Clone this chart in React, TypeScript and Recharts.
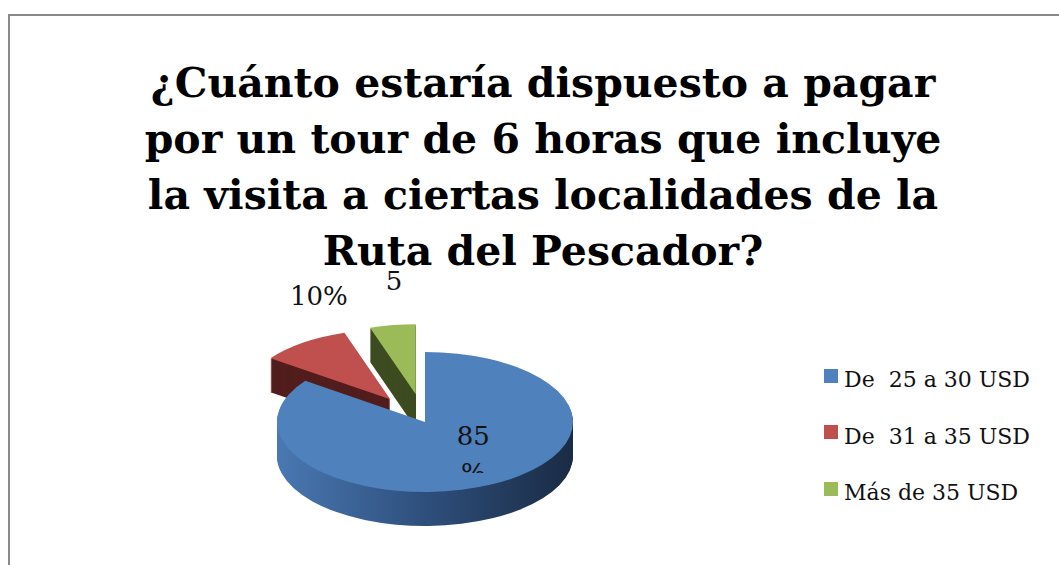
import React from 'react';
import { PieChart, Pie, Legend } from 'recharts';

// chart data
const categories = ['De  25 a 30 USD', 'De  31 a 35 USD', 'Más de 35 USD'];
const values = [85, 10, 5];
const titleLines = [
  '¿Cuánto estaría dispuesto a pagar',
  'por un tour de 6 horas que incluye',
  'la visita a ciertas localidades de la',
  'Ruta del Pescador?',
];

// styling
const topColors = ['#4f81bd', '#c0504d', '#9bbb59'];
const sideColors = ['url(#blueSide)', '#521e1d', '#3d4b21'];
const explode = [0, 0.4, 0.4];
const labelStyle = [
  { kx: 0.72, ky: 0.37, wrap: true, clip: 28 },
  { kx: 0.82, ky: 1.67, wrap: false, clip: 0 },
  { kx: 0.94, ky: 1.51, wrap: true, clip: 6 },
];
const TILT = 0.473;
const DEPTH = 34;
const RAD = Math.PI / 180;
const SERIF = '"DejaVu Serif", serif';

// pie is drawn back-to-front, so the big front slice goes last (counter-clockwise from 12 o'clock)
const pieData = categories
  .map((name, idx) => ({ name, value: values[idx], idx }))
  .reverse();

const ellPt = (cx: number, cy: number, rx: number, ry: number, deg: number) => [
  cx + rx * Math.cos(deg * RAD),
  cy - ry * Math.sin(deg * RAD),
];

const slicePath = (cx: number, cy: number, rx: number, ry: number, a0: number, a1: number) => {
  const [x0, y0] = ellPt(cx, cy, rx, ry, a0);
  const [x1, y1] = ellPt(cx, cy, rx, ry, a1);
  const large = Math.abs(a1 - a0) > 180 ? 1 : 0;
  const sweep = a1 > a0 ? 0 : 1;
  return `M${cx},${cy} L${x0},${y0} A${rx},${ry} 0 ${large} ${sweep} ${x1},${y1} Z`;
};

const renderSlice = (props: any) => {
  const { cx, cy, outerRadius, startAngle, endAngle, midAngle, percent, idx } = props;
  const rx = outerRadius;
  const ry = outerRadius * TILT;
  const e = explode[idx];
  const ccx = cx + e * rx * Math.cos(midAngle * RAD);
  const ccy = cy - e * ry * Math.sin(midAngle * RAD);
  const d = slicePath(ccx, ccy, rx, ry, startAngle, endAngle);

  const sides = [];
  for (let k = DEPTH; k >= 1; k--) {
    sides.push(<path key={k} d={d} transform={`translate(0,${k})`} fill={sideColors[idx]} />);
  }

  const ls = labelStyle[idx];
  const lx = ccx + rx * ls.kx * Math.cos(midAngle * RAD);
  const ly = ccy - ry * ls.ky * Math.sin(midAngle * RAD);
  const pct = Math.round(percent * 100);
  const clipId = `lblclip${idx}`;

  return (
    <g>
      {sides}
      <path d={d} fill={topColors[idx]} />
      {ls.wrap ? (
        <g>
          <defs>
            <clipPath id={clipId}>
              <rect x={lx - 60} y={ly - 40} width={120} height={40 + ls.clip} />
            </clipPath>
          </defs>
          <text
            x={lx}
            y={ly}
            textAnchor="middle"
            fontFamily={SERIF}
            fontSize={26}
            fill="#111"
            clipPath={`url(#${clipId})`}
          >
            <tspan x={lx}>{pct}</tspan>
            <tspan x={lx} dy={37}>%</tspan>
          </text>
        </g>
      ) : (
        <text x={lx} y={ly} textAnchor="middle" fontFamily={SERIF} fontSize={26} fill="#111">
          {pct}%
        </text>
      )}
    </g>
  );
};

const renderLegend = () => (
  <div style={{ fontFamily: SERIF, fontSize: 22, color: '#111' }}>
    {categories.map((c, i) => (
      <div key={c} style={{ height: 56.5, lineHeight: '56px', display: 'flex', alignItems: 'flex-start' }}>
        <span
          style={{
            display: 'inline-block',
            width: 14,
            height: 14,
            marginTop: 16.6,
            marginRight: 6,
            background: topColors[i],
          }}
        />
        <span style={{ whiteSpace: 'pre' }}>{c}</span>
      </div>
    ))}
  </div>
);

export default function App() {
  return (
    <div
      style={{
        position: 'fixed',
        left: 0,
        top: 0,
        width: 1059,
        height: 565,
        background: '#fff',
        overflow: 'hidden',
      }}
    >
      <div
        style={{
          position: 'absolute',
          left: 8,
          top: 14,
          width: 1100,
          height: 600,
          borderLeft: '2px solid #8a8a8a',
          borderTop: '2px solid #8a8a8a',
        }}
      />
      <div style={{ position: 'absolute', left: 0, top: 0 }}>
        <PieChart width={1059} height={565} margin={{ top: 0, right: 0, bottom: 0, left: 0 }}>
          <defs>
            <linearGradient id="blueSide" x1="0" y1="0" x2="1" y2="0">
              <stop offset="0%" stopColor="#4a78b2" />
              <stop offset="50%" stopColor="#2e4f7c" />
              <stop offset="100%" stopColor="#1a2b44" />
            </linearGradient>
          </defs>
          <Pie
            data={pieData}
            dataKey="value"
            nameKey="name"
            cx={425}
            cy={422}
            outerRadius={148}
            startAngle={90}
            endAngle={450}
            fill="transparent"
            stroke="none"
            label={renderSlice}
            labelLine={false}
            isAnimationActive={false}
          />
          <Legend
            content={renderLegend}
            wrapperStyle={{ left: 824, top: 352, width: 235, bottom: 'auto' }}
          />
        </PieChart>
      </div>
      <div
        style={{
          position: 'absolute',
          left: 128,
          top: 55,
          width: 830,
          textAlign: 'center',
          fontFamily: SERIF,
          fontWeight: 'bold',
          fontSize: 41,
          lineHeight: '56px',
          color: '#000',
          whiteSpace: 'nowrap',
          pointerEvents: 'none',
        }}
      >
        {titleLines.map((t) => (
          <div key={t}>{t}</div>
        ))}
      </div>
    </div>
  );
}
